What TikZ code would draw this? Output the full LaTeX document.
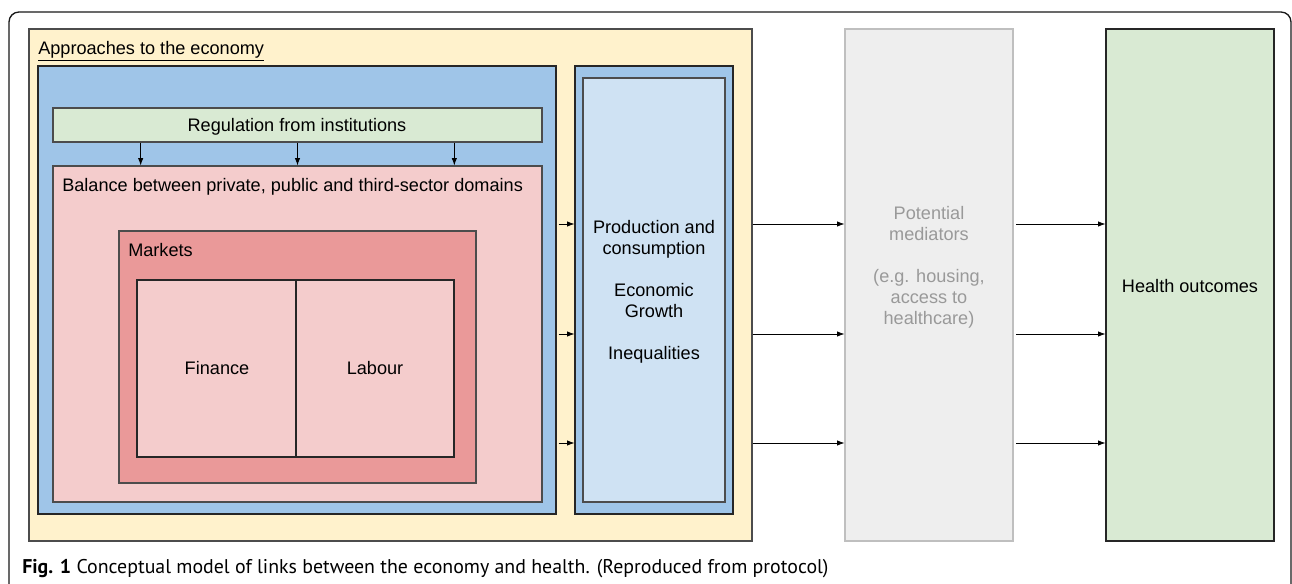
\documentclass[tikz,border=0pt]{standalone}
\usepackage{fontspec}
\setmainfont{Liberation Sans}
\newfontfamily\capfont{PT Sans}
\usetikzlibrary{arrows.meta,fit,calc}

\definecolor{yellowbg}{HTML}{FFF2CC}
\definecolor{bluebg}{HTML}{9FC5E8}
\definecolor{lightblue}{HTML}{CFE2F3}
\definecolor{greenbg}{HTML}{D9EAD3}
\definecolor{pinkbg}{HTML}{F4CCCC}
\definecolor{redbg}{HTML}{EA9999}
\definecolor{greybg}{HTML}{EEEEEE}
\definecolor{greytxt}{HTML}{999999}

\begin{document}
\begin{tikzpicture}[x=0.75pt,y=0.75pt,yscale=-1,xscale=1,
  box/.style={draw=black!70, line width=0.8pt, inner sep=0pt},
  lbl/.style={inner sep=0pt, font=\fontsize{13.6}{15.75}\selectfont},
  arr/.style={-{Latex[length=5.5pt,width=4pt]}, line width=0.6pt}]
\useasboundingbox (0,0) rectangle (1292,584);
\clip (0,0) rectangle (1292,584);

% page frame
\draw [black!90, line width=1pt, rounded corners=7.5pt] (9,600) -- (9,12) -- (1291,12) -- (1291,600);

% Approaches to the economy
\node [box, fill=yellowbg, fit={(29,29) (752,541)}] (appr) {};
\node [box, fill=bluebg, draw=black!85, fit={(38,66) (556,514)}] (inst) {};
\node [box, fill=greenbg, fit={(53,108) (542,142)}] (reg) {};
\node [box, fill=pinkbg, fit={(53,166) (542,502)}] (bal) {};
\node [box, fill=redbg, fit={(119,231) (476,483)}] (mkt) {};
\node [box, fill=pinkbg, draw=black!85, fit={(137,280) (296,457)}] (fin) {};
\node [box, fill=pinkbg, draw=black!85, fit={(296,280) (454,457)}] (lab) {};

% outcomes of the economy
\node [box, fill=bluebg, draw=black!85, fit={(575,66) (733,514)}] (econ) {};
\node [box, fill=lightblue, fit={(583,78) (725,502)}] (prod) {};

% mediators and health
\node [box, fill=greybg, draw=black!25, fit={(845,29) (1013,541)}] (med) {};
\node [box, fill=greenbg, draw=black!85, fit={(1106,29) (1274,541)}] (hlth) {};

% Text Node
\node [lbl, anchor=base west] (apprtxt) at (38,55) {\underline{Approaches to the economy}};
\node [lbl, anchor=base] (regtxt) at (297,132) {Regulation from institutions};
\node [lbl, anchor=base west] (baltxt) at (62,192) {Balance between private, public and third-sector domains};
\node [lbl, anchor=base west] (mkttxt) at (128,257) {Markets};
\node [lbl, anchor=base] (fintxt) at (217,375) {Finance};
\node [lbl, anchor=base] (labtxt) at (375,375) {Labour};
\node [lbl, align=center] (prodtxt) at (654,292) {Production and\\consumption\\[15.75pt]Economic\\Growth\\[15.75pt]Inequalities};
\node [lbl, align=center, text=greytxt] (medtxt) at (929,267) {Potential\\mediators\\[15.75pt](e.g. housing,\\access to\\healthcare)};
\node [lbl] (hlthtxt) at (1190,286) {Health outcomes};

% arrows
\foreach \f in {0.18,0.5,0.82}
  \draw [arr] ($(reg.south west)!\f!(reg.south east)$) -- ($(bal.north west)!\f!(bal.north east)$);
\foreach \y in {224,334,443} {
  \draw [arr] ([xshift=1.5pt]inst.east |- 0,\y) -- (econ.west |- 0,\y);
  \draw [arr] (appr.east |- 0,\y) -- (med.west |- 0,\y);
  \draw [arr] ([xshift=2pt]med.east |- 0,\y) -- (hlth.west |- 0,\y);
}

% caption
\node [anchor=base west, inner sep=0pt, font=\capfont\fontsize{14.9}{17}\selectfont] (cap) at (22,573)
  {\textbf{Fig. 1} Conceptual model of links between the economy and health. (Reproduced from protocol)};
\end{tikzpicture}
\end{document}
